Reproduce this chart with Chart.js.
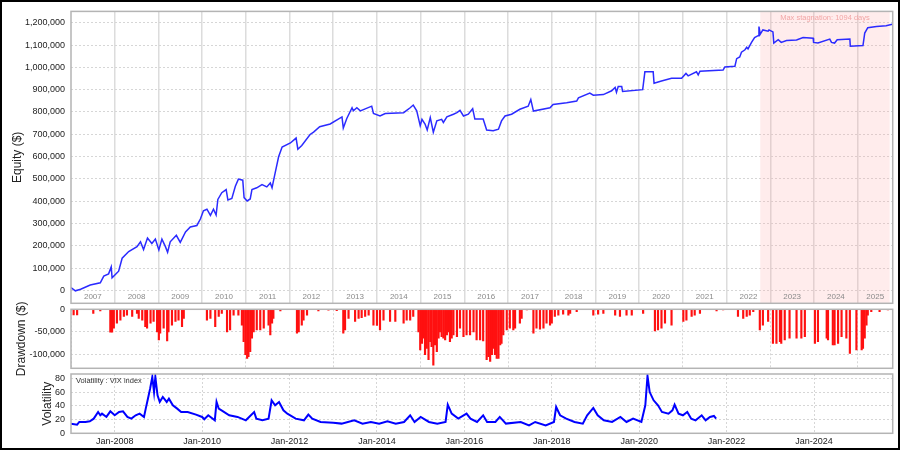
<!DOCTYPE html>
<html><head><meta charset="utf-8">
<script src="https://cdn.jsdelivr.net/npm/chart.js@4.4.1/dist/chart.umd.min.js"></script>
<style>
html,body{margin:0;padding:0;background:#fff;}
#wrap{position:relative;width:900px;height:450px;overflow:hidden;background:#fff;}
#wrap canvas{position:absolute;left:0;top:0;}
#frame{position:absolute;left:0;top:0;width:900px;height:450px;box-sizing:border-box;border:2px solid #000;pointer-events:none;}
</style></head><body>
<div id="wrap">
<canvas id="c1" width="900" height="450"></canvas>
<canvas id="c2" width="900" height="450"></canvas>
<canvas id="c3" width="900" height="450"></canvas>
<div id="frame"></div>
</div>
<script>
const X_MIN = 2007.0, X_MAX = 2025.8;
const yearLabels = ['2007','2008','2009','2010','2011','2012','2013','2014','2015','2016','2017','2018','2019','2020','2021','2022','2023','2024','2025'];
const yearLines = [2008,2009,2010,2011,2012,2013,2014,2015,2016,2017,2018,2019,2020,2021,2022,2023,2024,2025];
const dateTicks = [2008,2010,2012,2014,2016,2018,2020,2022,2024];
const dateTickLabels = ['Jan-2008','Jan-2010','Jan-2012','Jan-2014','Jan-2016','Jan-2018','Jan-2020','Jan-2022','Jan-2024'];
const equityTicks = [0,100000,200000,300000,400000,500000,600000,700000,800000,900000,1000000,1100000,1200000];
const drawdownTicks = [0,-50000,-100000];
const vixTicks = [0,20,40,60,80];
const stagnation = [2022.77, 2025.73];
const stagnationLabel = 'Max stagnation: 1094 days';
const vixLabel = 'Volatility : VIX index';

// [year, equity $]
const equityPoints = [
[2007.00,12000],[2007.10,-2000],[2007.22,5000],[2007.44,24000],[2007.67,34000],[2007.75,64000],[2007.86,74000],[2007.92,105000],[2007.94,56000],
[2008.09,86000],[2008.17,144000],[2008.32,174000],[2008.51,196000],[2008.59,218000],[2008.66,183000],[2008.75,235000],[2008.85,210000],[2008.93,230000],
[2009.01,181000],[2009.08,230000],[2009.16,196000],[2009.21,171000],[2009.27,218000],[2009.41,247000],[2009.50,215000],[2009.62,262000],[2009.73,284000],[2009.88,291000],[2009.96,320000],
[2010.03,357000],[2010.11,364000],[2010.19,336000],[2010.26,364000],[2010.32,338000],[2010.36,408000],[2010.45,438000],[2010.55,452000],[2010.59,405000],[2010.68,412000],[2010.76,467000],[2010.83,499000],[2010.93,494000],[2010.96,416000],
[2011.03,401000],[2011.10,410000],[2011.14,452000],[2011.25,460000],[2011.37,474000],[2011.48,464000],[2011.56,482000],[2011.60,460000],[2011.63,489000],[2011.67,526000],[2011.75,599000],[2011.83,643000],
[2012.02,661000],[2012.15,683000],[2012.19,633000],[2012.28,650000],[2012.47,699000],[2012.55,710000],[2012.69,734000],[2012.93,746000],
[2013.20,778000],[2013.23,728000],[2013.31,771000],[2013.43,819000],[2013.46,805000],[2013.54,819000],[2013.62,805000],[2013.88,826000],[2013.92,793000],
[2014.07,782000],[2014.19,793000],[2014.61,797000],[2014.76,819000],[2014.83,831000],[2014.91,805000],[2014.99,738000],
[2015.03,767000],[2015.10,746000],[2015.15,719000],[2015.22,775000],[2015.29,709000],[2015.37,760000],[2015.48,767000],[2015.52,753000],[2015.60,778000],[2015.75,790000],[2015.83,797000],[2015.90,807000],[2015.98,782000],
[2016.09,790000],[2016.19,815000],[2016.24,768000],[2016.43,768000],[2016.51,719000],[2016.66,716000],[2016.78,723000],[2016.85,760000],[2016.93,782000],
[2017.08,790000],[2017.27,812000],[2017.46,826000],[2017.52,856000],[2017.58,804000],[2017.96,819000],
[2018.03,834000],[2018.34,841000],[2018.57,849000],[2018.61,863000],[2018.87,885000],[2018.95,875000],
[2019.18,878000],[2019.37,895000],[2019.45,910000],[2019.48,888000],[2019.52,914000],[2019.60,914000],[2019.62,892000],
[2020.08,900000],[2020.13,980000],[2020.32,980000],[2020.34,929000],[2020.51,939000],[2020.74,951000],[2020.97,951000],
[2021.07,973000],[2021.12,962000],[2021.31,980000],[2021.35,966000],[2021.39,983000],[2021.92,988000],[2021.96,1002000],
[2022.19,1005000],[2022.23,1039000],[2022.30,1047000],[2022.34,1068000],[2022.42,1079000],[2022.46,1090000],[2022.49,1083000],[2022.57,1112000],[2022.64,1134000],[2022.72,1142000],[2022.74,1183000],[2022.77,1149000],[2022.83,1168000],[2022.95,1162000],[2022.97,1168000],
[2023.06,1159000],[2023.08,1109000],[2023.18,1124000],[2023.25,1112000],[2023.37,1120000],[2023.60,1123000],[2023.75,1134000],[2023.98,1131000],[2023.99,1112000],
[2024.09,1109000],[2024.36,1127000],[2024.40,1112000],[2024.47,1109000],[2024.53,1124000],[2024.82,1127000],[2024.83,1095000],
[2025.12,1098000],[2025.16,1154000],[2025.23,1178000],[2025.43,1183000],[2025.65,1187000],[2025.79,1193000]
];

// [year, drawdown $]
const drawdownBars = [
[2007.06,-12600],[2007.14,-12600],[2007.51,-8900],[2007.67,-3700],[2007.90,-51000],[2007.94,-51000],[2007.98,-42000],
[2008.05,-31000],[2008.13,-24000],[2008.21,-16000],[2008.28,-13000],[2008.40,-16000],[2008.51,-9000],[2008.55,-20000],[2008.63,-24000],[2008.70,-38500],[2008.74,-42000],[2008.82,-31000],[2008.89,-27000],[2008.97,-50000],
[2009.01,-68000],[2009.04,-53000],[2009.12,-42000],[2009.20,-70000],[2009.23,-50000],[2009.31,-35000],[2009.39,-27000],[2009.46,-24000],[2009.54,-38500],[2009.58,-20000],
[2010.11,-24000],[2010.19,-20000],[2010.30,-38500],[2010.38,-16000],[2010.45,-9000],[2010.57,-50000],[2010.64,-46000],[2010.72,-13000],[2010.83,-13000],[2010.91,-35000],[2010.95,-72000],[2010.99,-101000],
[2011.03,-109000],[2011.06,-105000],[2011.10,-94000],[2011.14,-64000],[2011.18,-50000],[2011.25,-46000],[2011.33,-46000],[2011.41,-42000],[2011.52,-35000],[2011.56,-57000],[2011.60,-31000],[2011.63,-20000],[2011.79,-3700],
[2012.17,-53000],[2012.21,-50000],[2012.28,-35000],[2012.32,-24000],[2012.40,-13000],[2012.66,-3700],[2012.89,-2200],
[2013.08,-3000],[2013.23,-53000],[2013.27,-46000],[2013.35,-20000],[2013.50,-27000],[2013.58,-20000],[2013.65,-18500],[2013.73,-16000],[2013.81,-13000],[2013.92,-35000],
[2014.00,-36000],[2014.07,-46000],[2014.15,-24000],[2014.30,-27000],[2014.42,-27000],[2014.61,-31000],[2014.68,-24000],[2014.76,-24000],[2014.83,-16000],[2014.95,-50000],[2014.99,-90000],
[2015.03,-76000],[2015.06,-64000],[2015.10,-101000],[2015.14,-87000],[2015.18,-112000],[2015.22,-72000],[2015.25,-83000],[2015.29,-124000],[2015.33,-79000],[2015.37,-94000],[2015.41,-64000],[2015.44,-50000],[2015.48,-61000],[2015.52,-64000],[2015.56,-68000],[2015.60,-57000],[2015.63,-50000],[2015.67,-72000],[2015.71,-64000],[2015.75,-57000],[2015.83,-61000],[2015.90,-42000],[2015.98,-61000],
[2016.05,-57000],[2016.13,-57000],[2016.21,-50000],[2016.28,-68000],[2016.36,-68000],[2016.43,-70000],[2016.51,-112000],[2016.55,-105000],[2016.59,-116000],[2016.63,-101000],[2016.66,-87000],[2016.70,-101000],[2016.74,-109000],[2016.78,-109000],[2016.82,-79000],[2016.85,-76000],[2016.89,-57000],[2016.97,-46000],
[2017.04,-42000],[2017.12,-46000],[2017.16,-42000],[2017.27,-31000],[2017.31,-20000],[2017.43,-1500],[2017.58,-53000],[2017.65,-42000],[2017.73,-44000],[2017.81,-42000],[2017.88,-31000],[2017.96,-35000],
[2018.00,-31000],[2018.07,-16000],[2018.15,-13000],[2018.26,-11000],[2018.38,-13000],[2018.42,-9000],[2018.57,-5000],[2018.95,-13000],
[2019.06,-11000],[2019.18,-9000],[2019.45,-13000],[2019.56,-16000],[2019.71,-13000],[2019.83,-13000],
[2020.09,-9000],[2020.36,-48000],[2020.43,-46000],[2020.51,-42000],[2020.59,-31000],[2020.74,-35000],
[2021.01,-27000],[2021.08,-24000],[2021.20,-16000],[2021.27,-13000],[2021.39,-9000],[2021.77,-3700],[2021.92,-1500],
[2022.26,-16000],[2022.38,-20000],[2022.46,-16000],[2022.53,-13000],[2022.61,-5000],[2022.76,-46000],[2022.83,-35000],[2022.95,-27000],
[2023.06,-76000],[2023.14,-76000],[2023.22,-72000],[2023.25,-76000],[2023.33,-68000],[2023.44,-64000],[2023.60,-64000],[2023.71,-64000],[2023.79,-61000],
[2024.02,-76000],[2024.09,-72000],[2024.29,-64000],[2024.32,-68000],[2024.43,-79000],[2024.47,-79000],[2024.55,-76000],[2024.63,-61000],[2024.74,-64000],[2024.82,-98000],[2024.97,-90000],
[2025.09,-90000],[2025.12,-87000],[2025.16,-64000],[2025.20,-35000],[2025.23,-13000],[2025.31,-5000],[2025.50,-5000],[2025.69,-1500]
];

// [year, VIX]
const vixPoints = [
[2007.00,14.1],[2007.14,12.6],[2007.19,16.5],[2007.33,16.5],[2007.43,17.5],[2007.52,21.3],[2007.62,31],[2007.67,26.2],[2007.71,28.6],[2007.81,23.8],[2007.90,32],
[2008.00,26.2],[2008.10,31],[2008.19,32],[2008.29,23.8],[2008.38,21.3],[2008.48,26.2],[2008.57,28.6],[2008.67,23.8],[2008.71,35.9],[2008.76,50.4],[2008.81,65],[2008.86,82],[2008.90,60],[2008.93,82],[2008.98,55.3],
[2009.03,45.6],[2009.10,52.9],[2009.19,45.6],[2009.24,50.4],[2009.33,40.7],[2009.43,35.9],[2009.52,31],[2009.67,31],[2009.86,27.2],
[2010.00,23.8],[2010.05,20.4],[2010.14,26.2],[2010.29,18.9],[2010.33,45.6],[2010.38,35.9],[2010.48,32],[2010.62,26.2],[2010.81,23.8],
[2011.00,18.9],[2011.19,31],[2011.24,21.3],[2011.38,18.9],[2011.52,21.3],[2011.59,48],[2011.67,40.7],[2011.76,45.6],[2011.86,33.5],[2011.95,28.6],
[2012.14,21.3],[2012.33,18.9],[2012.43,27.2],[2012.52,21.3],[2012.71,16.5],
[2013.00,15.5],[2013.19,14.1],[2013.48,18.9],[2013.67,14.1],[2013.86,16.5],
[2014.05,14.1],[2014.24,17.5],[2014.43,14.1],[2014.62,16.5],[2014.76,26.2],[2014.86,16.5],
[2015.00,23.8],[2015.19,16.5],[2015.38,14.1],[2015.57,16.5],[2015.62,41.7],[2015.71,28.6],[2015.86,21.3],
[2016.05,28.6],[2016.14,21.3],[2016.29,16.5],[2016.43,26.2],[2016.52,16.5],[2016.71,16.5],[2016.81,23.8],[2016.95,14.1],
[2017.29,16.5],[2017.48,11.6],[2017.62,16.5],[2017.86,11.6],
[2018.05,16.5],[2018.10,38.3],[2018.19,26.2],[2018.33,21.3],[2018.52,16.5],[2018.71,14.1],[2018.81,26.2],[2018.95,36.9],
[2019.05,26.2],[2019.19,18.9],[2019.38,16.5],[2019.57,23.8],[2019.71,16.5],[2019.86,21.3],
[2020.05,16.5],[2020.14,40.7],[2020.19,83.4],[2020.24,60],[2020.33,48],[2020.43,40.7],[2020.52,31],[2020.67,28.6],[2020.76,33.5],[2020.81,41.7],[2020.90,28.6],
[2021.00,26.2],[2021.10,31],[2021.19,21.3],[2021.29,18.9],[2021.43,26.2],[2021.52,18.9],[2021.62,23.8],[2021.71,25.2],[2021.76,21.3]
];

const FONT = '"Liberation Sans", Arial, sans-serif';
Chart.defaults.font.family = FONT;
Chart.defaults.font.size = 9;
Chart.defaults.color = '#222';

const fmt = v => Number(v).toLocaleString('en-US');
const W_AXIS = 71, RIGHT = 7.3;

const framePlugin = {
  id: 'frame',
  afterDraw(chart) {
    const a = chart.chartArea, c = chart.ctx;
    c.save();
    c.strokeStyle = '#b4b4b4'; c.lineWidth = 1.5;
    c.strokeRect(a.left, a.top, a.right - a.left, a.bottom - a.top);
    c.restore();
  }
};

function baseOptions(padTop, padBottom) {
  return {
    responsive: false, maintainAspectRatio: false, animation: false,
    layout: { padding: { top: padTop, bottom: padBottom, left: 0, right: RIGHT } },
    plugins: { legend: { display: false }, tooltip: { enabled: false } }
  };
}
function yAxis(min, max, ticks, title, titlePad, cb) {
  return {
    type: 'linear', min, max,
    afterBuildTicks: s => { s.ticks = ticks.map(v => ({ value: v })); },
    afterFit: s => { s.width = W_AXIS; },
    ticks: { padding: 6, color: '#222', callback: cb || (v => fmt(v)) },
    grid: { color: '#d6d6d6', drawTicks: false, lineWidth: 1 },
    border: { display: false, dash: [2, 2] },
    title: { display: true, text: title, color: '#222', font: { size: 12 }, padding: { top: titlePad, bottom: 0 } }
  };
}

// ---- Equity chart ----
const shadePlugin = {
  id: 'shade',
  beforeDatasetsDraw(chart) {
    const a = chart.chartArea, c = chart.ctx, x = chart.scales.x;
    const x0 = x.getPixelForValue(stagnation[0]), x1 = x.getPixelForValue(stagnation[1]);
    c.save();
    c.fillStyle = 'rgba(255,170,170,0.22)';
    c.fillRect(x0, a.top, x1 - x0, a.bottom - a.top);
    c.fillStyle = '#f2a6a6';
    c.font = '7.5px ' + FONT;
    c.textAlign = 'center'; c.textBaseline = 'middle';
    c.fillText(stagnationLabel, (x0 + x1) / 2, a.top + 7);
    // year labels
    c.fillStyle = '#8a8a8a';
    c.font = '8px ' + FONT;
    yearLabels.forEach(lbl => {
      const y = Number(lbl);
      const s = Math.max(y, X_MIN), e = Math.min(y + 1, X_MAX);
      c.fillText(lbl, x.getPixelForValue((s + e) / 2), a.bottom - 7);
    });
    c.restore();
  }
};

const o1 = baseOptions(5, 450 - 303.3);
o1.scales = {
  x: {
    type: 'linear', min: X_MIN, max: X_MAX,
    afterBuildTicks: s => { s.ticks = yearLines.map(v => ({ value: v })); },
    afterFit: s => { s.height = 0; },
    ticks: { display: false },
    grid: { color: '#dcdcdc', lineWidth: 1.5, drawTicks: false },
    border: { display: false }
  },
  y: yAxis(-58000, 1251000, equityTicks, 'Equity ($)', 10)
};
new Chart(document.getElementById('c1'), {
  type: 'line',
  data: { datasets: [{ data: equityPoints.map(p => ({ x: p[0], y: p[1] })), borderColor: '#2b2bff', borderWidth: 1.5, pointRadius: 0, tension: 0, fill: false }] },
  options: o1,
  plugins: [shadePlugin, framePlugin]
});

// ---- Drawdown chart ----
const o2 = baseOptions(309.3, 450 - 368.3);
o2.scales = {
  x: {
    type: 'linear', min: X_MIN, max: X_MAX, offset: false,
    afterBuildTicks: s => { s.ticks = dateTicks.map(v => ({ value: v })); },
    afterFit: s => { s.height = 0; },
    ticks: { display: false },
    grid: { color: '#d6d6d6', drawTicks: false },
    border: { display: false, dash: [2, 2] }
  },
  y: yAxis(-131000, 0, drawdownTicks, 'Drawdown ($)', 14)
};
new Chart(document.getElementById('c2'), {
  type: 'bar',
  data: { datasets: [{ data: drawdownBars.map(p => ({ x: p[0], y: p[1] })), backgroundColor: '#ff1010', borderWidth: 0, barThickness: 1.5 }] },
  options: o2,
  plugins: [framePlugin]
});

// ---- Volatility chart ----
const vixLabelPlugin = {
  id: 'vixlabel',
  afterDatasetsDraw(chart) {
    const a = chart.chartArea, c = chart.ctx;
    c.save();
    c.fillStyle = '#333'; c.font = '7.5px ' + FONT;
    c.textAlign = 'left'; c.textBaseline = 'middle';
    c.fillText(vixLabel, a.left + 5, a.top + 7);
    c.restore();
  }
};
const o3 = baseOptions(374, 450 - 433.3 - 14);
o3.scales = {
  x: {
    type: 'linear', min: X_MIN, max: X_MAX,
    afterBuildTicks: s => { s.ticks = dateTicks.map(v => ({ value: v })); },
    afterFit: s => { s.height = 14; },
    ticks: { padding: 3, autoSkip: false, maxRotation: 0, color: '#222', callback: (v, i) => dateTickLabels[i] },
    grid: { color: '#d6d6d6', drawTicks: false },
    border: { display: false, dash: [2, 2] }
  },
  y: yAxis(0, 86.3, vixTicks, 'Volatility', 40, v => String(v))
};
new Chart(document.getElementById('c3'), {
  type: 'line',
  data: { datasets: [{ data: vixPoints.map(p => ({ x: p[0], y: p[1] })), borderColor: '#0000ff', borderWidth: 2, pointRadius: 0, tension: 0, fill: false }] },
  options: o3,
  plugins: [vixLabelPlugin, framePlugin]
});
</script>
</body></html>
